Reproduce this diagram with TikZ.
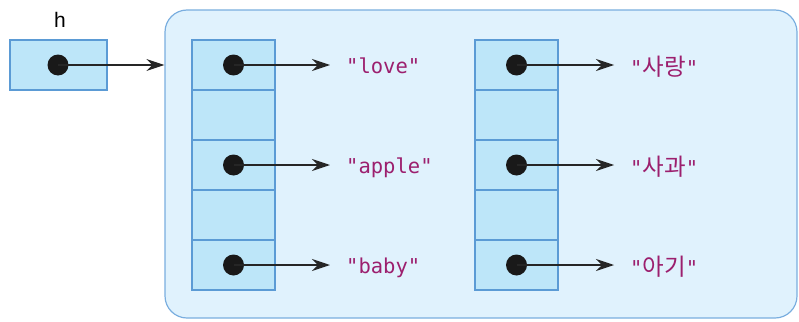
\documentclass[tikz,border=0pt]{standalone}
\usepackage{fontspec}
\setmainfont{Liberation Sans}
\newfontfamily\codefont{DejaVu Sans Mono}
\newfontfamily\krfont{Noto Sans CJK KR}
\usetikzlibrary{arrows.meta}

\definecolor{boxfill}{HTML}{E0F2FD}
\definecolor{boxline}{HTML}{7AAEDF}
\definecolor{cellfill}{HTML}{BDE6F9}
\definecolor{cellline}{HTML}{5B9BD5}
\definecolor{strcol}{HTML}{9C1F6E}

\tikzset{
  cell/.style={draw=cellline, fill=cellfill, line width=1.2pt, minimum width=83pt, minimum height=50pt, inner sep=0pt},
  dot/.style={circle, fill=black!90, minimum size=21pt, inner sep=0pt},
  ptr/.style={line width=1.3pt, black!85, shorten >=16pt, -{Stealth[length=18pt, width=12pt, inset=6pt]}},
  str/.style={anchor=base west, inner sep=0pt, text=strcol, font=\codefont\fontsize{20.5}{22}\selectfont},
}
\newcommand{\kr}[1]{{\krfont\fontsize{23.5}{25}\selectfont #1}}

\begin{document}
\begin{tikzpicture}[x=1pt, y=-1pt]
  \useasboundingbox (0,0) rectangle (799,321);

  % the table that holds the buckets
  \node[draw=boxline, fill=boxfill, line width=1.2pt, rounded corners=22pt,
        minimum width=632pt, minimum height=308pt, inner sep=0pt] (box) at (481,164) {};

  % the variable h
  \node[cell, minimum width=97pt] (h) at (58.5,65) {};
  \node (hlabel) at (60,20) {\fontsize{21}{22}\selectfont h};
  \node[dot] (hd) at (58,65) {};
  \draw[ptr, shorten >=0pt] (hd.center) -- (hd.center -| box.west);

  % keys column
  \node[cell] (k1) at (233.5,65) {};
  \node[cell] (k2) at (233.5,115) {};
  \node[cell] (k3) at (233.5,165) {};
  \node[cell] (k4) at (233.5,215) {};
  \node[cell] (k5) at (233.5,265) {};

  % values column
  \node[cell] (v1) at (516.5,65) {};
  \node[cell] (v2) at (516.5,115) {};
  \node[cell] (v3) at (516.5,165) {};
  \node[cell] (v4) at (516.5,215) {};
  \node[cell] (v5) at (516.5,265) {};

  % the strings
  \node[str] (s1) at (346,73) {"love"};
  \node[str] (s3) at (346,173) {"apple"};
  \node[str] (s5) at (346,273) {"baby"};
  \node[str] (t1) at (630,75) {"\kr{사랑}"};
  \node[str] (t3) at (630,175) {"\kr{사과}"};
  \node[str] (t5) at (630,275) {"\kr{아기}"};

  % pointers from the cells
  \node[dot] (d1) at (k1) {};
  \node[dot] (d3) at (k3) {};
  \node[dot] (d5) at (k5) {};
  \node[dot] (e1) at (v1) {};
  \node[dot] (e3) at (v3) {};
  \node[dot] (e5) at (v5) {};

  \draw[ptr] (d1.center) -- (d1.center -| s1.west);
  \draw[ptr] (d3.center) -- (d3.center -| s3.west);
  \draw[ptr] (d5.center) -- (d5.center -| s5.west);
  \draw[ptr] (e1.center) -- (e1.center -| t1.west);
  \draw[ptr] (e3.center) -- (e3.center -| t3.west);
  \draw[ptr] (e5.center) -- (e5.center -| t5.west);
\end{tikzpicture}
\end{document}
